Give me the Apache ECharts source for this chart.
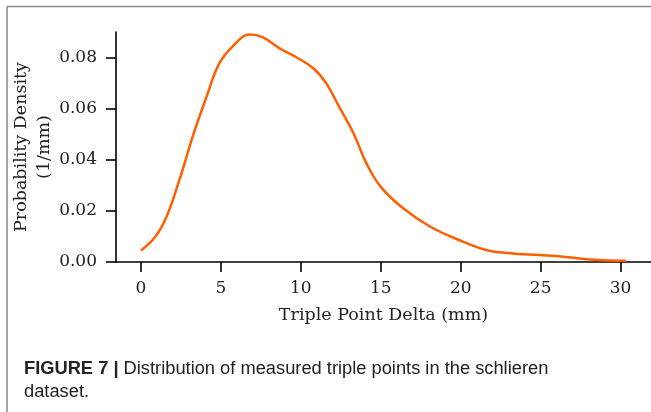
<!DOCTYPE html>
<html>
<head>
<meta charset="utf-8">
<script src="https://cdn.jsdelivr.net/npm/echarts@6/dist/echarts.min.js"></script>
<style>
  html, body { margin: 0; padding: 0; background: #fff; }
  #main { width: 651px; height: 412px; }
</style>
</head>
<body>
<div id="main"></div>
<script>
// KDE curve
var deltaMm = [0, 0.9, 1.6, 2.4, 3.3, 4.1, 4.9, 5.8, 6.8, 7.6, 8.7, 9.7, 10.8, 11.6, 12.4, 13.3, 14.1, 15.0, 16.4, 18.1, 19.9, 21.6, 23.1, 24.9, 26.4, 27.9, 28.9, 30.35];
var density = [0.0045, 0.0099, 0.0177, 0.0320, 0.0503, 0.0646, 0.0777, 0.0848, 0.0890, 0.0880, 0.0835, 0.0802, 0.0757, 0.0698, 0.0607, 0.0503, 0.0386, 0.0294, 0.0210, 0.0138, 0.0086, 0.0047, 0.0034, 0.0027, 0.0021, 0.0011, 0.0007, 0.0005];

var xTicks = [0, 5, 10, 15, 20, 25, 30];
var yTicks = [0, 0.02, 0.04, 0.06, 0.08];

var points = [];
for (let i = 0; i < deltaMm.length; i++) {
    points.push([deltaMm[i], density[i]]);
}

var myChart = echarts.init(document.getElementById('main'));

var serif = 'DejaVu Serif';

var option = {
    animation: false,
    title: {
        left: 19,
        top: 352,
        text: '{b|FIGURE 7 |} Distribution of measured triple points in the schlieren\ndataset.',
        textStyle: {
            fontFamily: 'Liberation Sans',
            fontSize: 18.3,
            fontWeight: 'normal',
            color: '#222',
            lineHeight: 23,
            rich: {
                b: { fontFamily: 'Liberation Sans', fontSize: 18.3, fontWeight: 'bold', color: '#222' }
            }
        }
    },
    grid: { left: 116, top: 32, right: 0, bottom: 150, outerBoundsMode: 'none', containLabel: false },
    xAxis: {
        type: 'value',
        min: -1.56,
        max: 31.9,
        name: 'Triple Point Delta (mm)',
        nameLocation: 'middle',
        nameGap: 44,
        nameMoveOverlap: false,
        nameTextStyle: { fontFamily: serif, fontSize: 17.5, color: '#222' },
        axisLine: { show: true, onZero: false, lineStyle: { color: '#000', width: 1.6 } },
        axisTick: { show: true, customValues: xTicks, length: 10, lineStyle: { color: '#000', width: 1.6 } },
        axisLabel: { customValues: xTicks, margin: 18, fontFamily: serif, fontSize: 17, color: '#222' },
        splitLine: { show: false }
    },
    yAxis: {
        type: 'value',
        min: 0,
        max: 0.09,
        name: 'Probability Density\n(1/mm)',
        nameLocation: 'middle',
        nameRotate: 90,
        nameGap: 60,
        nameMoveOverlap: false,
        nameTextStyle: { fontFamily: serif, fontSize: 17.5, color: '#222', lineHeight: 23, align: 'center' },
        axisLine: { show: true, onZero: false, lineStyle: { color: '#000', width: 1.6 } },
        axisTick: { show: true, customValues: yTicks, length: 10, lineStyle: { color: '#000', width: 1.6 } },
        axisLabel: {
            customValues: yTicks, margin: 19, fontFamily: serif, fontSize: 17, color: '#222',
            formatter: function (v) { return v.toFixed(2); }
        },
        splitLine: { show: false }
    },
    graphic: [
        { type: 'line', shape: { x1: 7, y1: 6.5, x2: 651, y2: 6.5 }, style: { stroke: '#888', lineWidth: 1.5 } },
        { type: 'line', shape: { x1: 7, y1: 6.5, x2: 7, y2: 412 }, style: { stroke: '#888', lineWidth: 1.5 } }
    ],
    series: [{
        type: 'line',
        data: points,
        smooth: 0.4,
        showSymbol: false,
        lineStyle: { color: '#ff5f00', width: 2.5 }
    }]
};
myChart.setOption(option);
</script>
</body>
</html>
